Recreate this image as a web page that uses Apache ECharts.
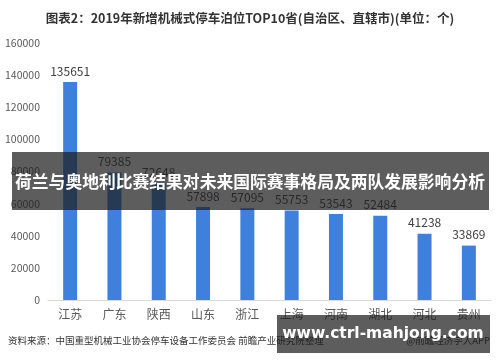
<!DOCTYPE html>
<html>
<head>
<meta charset="utf-8">
<script src="https://cdn.jsdelivr.net/npm/echarts@6/dist/echarts.min.js"></script>
<style>html,body{margin:0;padding:0;background:#fff;}#c{width:500px;height:362px;}</style>
</head>
<body>
<div id="c"></div>
<script>
const categories = ['江苏','广东','陕西','山东','浙江','上海','河南','湖北','河北','贵州'];
const values = [135651, 79385, 72648, 57898, 57095, 55753, 53543, 52484, 41238, 33869];
const titleText = '图表2：2019年新增机械式停车泊位TOP10省(自治区、直辖市)(单位：个)';
const sourceText = '资料来源：中国重型机械工业协会停车设备工作委员会 前瞻产业研究院整理';
const creditText = '@前瞻经济学人APP';
const bannerText = '荷兰与奥地利比赛结果对未来国际赛事格局及两队发展影响分析';
const watermarkText = 'www.ctrl-mahjong.com';

const font = '"Noto Sans CJK SC", "Microsoft YaHei", sans-serif';
const chart = echarts.init(document.getElementById('c'), null, {renderer:'canvas'});
chart.setOption({
  animation: false,
  backgroundColor: '#fff',
  textStyle: {fontFamily: font},
  title: {
    text: titleText, left: 'center', top: 7,
    textStyle: {fontSize: 12.5, fontWeight: 'bold', color: '#333', fontFamily: font}
  },
  grid: {left: 48, right: 9, top: 43, bottom: 62},
  xAxis: {
    type: 'category', data: categories,
    axisLine: {lineStyle: {color: '#d9d9d9'}},
    axisTick: {show: false},
    axisLabel: {color: '#595959', fontSize: 12, margin: 8, fontFamily: font}
  },
  yAxis: {
    type: 'value', min: 0, max: 160000, interval: 20000,
    splitLine: {show: false},
    axisLine: {show: false}, axisTick: {show: false},
    axisLabel: {color: '#595959', fontSize: 10.5, margin: 8, fontFamily: font, formatter: v => String(v)}
  },
  series: [{
    type: 'bar', data: values, barWidth: 14,
    itemStyle: {color: '#3e80dc'},
    label: {show: true, position: 'top', distance: 5, color: '#404040', fontSize: 12, fontFamily: font}
  }],
  graphic: [
    {type: 'text', left: 8, top: 336, style: {text: sourceText, fill: '#333', fontSize: 9.5, fontFamily: font}},
    {type: 'text', right: 10, top: 336, style: {text: creditText, fill: '#333', fontSize: 9.5, fontFamily: font}},
    {type: 'rect', shape: {x: 12, y: 152, width: 477, height: 58}, style: {fill: 'rgba(30,30,30,0.72)'}, z: 100},
    {type: 'text', x: 250, y: 182, z: 101, style: {text: bannerText, fill: '#fff', fontSize: 16.8, fontWeight: 'bold', fontFamily: font, align: 'center', verticalAlign: 'middle'}},
    {type: 'rect', shape: {x: 277, y: 315, width: 213, height: 38}, style: {fill: 'rgba(30,30,30,0.72)'}, z: 100},
    {type: 'text', x: 383, y: 334, z: 101, style: {text: watermarkText, fill: '#fff', fontSize: 15.5, fontWeight: 'bold', fontFamily: '"DejaVu Sans", sans-serif', align: 'center', verticalAlign: 'middle'}}
  ]
});
</script>
</body>
</html>
